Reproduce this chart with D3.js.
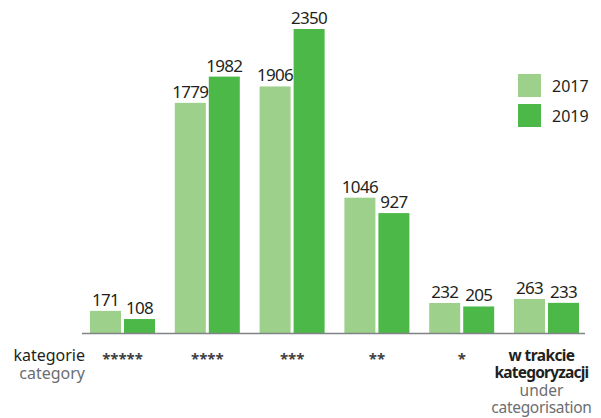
<!DOCTYPE html>
<html><head><meta charset="utf-8">
<script src="https://cdn.jsdelivr.net/npm/d3@7"></script>
<style>body{margin:0;background:#fff}text{font-family:"Noto Sans",sans-serif}</style>
</head><body><svg id="c" width="601" height="418"></svg>
<script>
const categories = ["*****","****","***","**","*","w trakcie kategoryzacji"];
const years = ["2017","2019"];
const v2017 = [171,1779,1906,1046,232,263];
const v2019 = [108,1982,2350,927,205,233];
const colors = ["#9dd08a","#4cb848"];

const svg = d3.select("#c");
const baseY = 333, topY = 29;
const x = d3.scalePoint().domain(categories).range([122.5, 546.5]);
const y = d3.scaleLinear().domain([0, 2350]).range([baseY, topY]);
const bw = 31, gap = 3;
const series = [v2017, v2019];

series.forEach((vals, si) => {
  const g = svg.append("g");
  categories.forEach((c, i) => {
    const cx = x(c);
    const bx = si === 0 ? cx - gap/2 - bw : cx + gap/2;
    g.append("rect").attr("x", bx).attr("y", y(vals[i])).attr("width", bw)
      .attr("height", baseY - y(vals[i])).attr("fill", colors[si]);
    g.append("text").attr("x", bx + bw/2).attr("y", y(vals[i]) - 5)
      .attr("text-anchor", "middle").attr("font-size", 17).attr("fill", "#231f20")
      .style("letter-spacing", "-0.7px").text(vals[i]);
  });
});

svg.append("line").attr("x1", 82).attr("x2", 585).attr("y1", baseY + 0.5).attr("y2", baseY + 0.5)
  .attr("stroke", "#808285").attr("stroke-width", 1.5);

categories.forEach((c, i) => {
  const cx = x(c);
  if (i < 5) {
    svg.append("text").attr("x", cx).attr("y", 364).attr("text-anchor", "middle")
      .attr("font-size", 15).attr("font-weight", "bold").attr("fill", "#414042").text(c);
  } else {
    const lx = cx - 5;
    const lines = [
      {t: "w trakcie", y: 361, b: true, ls: -0.6, col: "#231f20"},
      {t: "kategoryzacji", y: 378, b: true, ls: -0.8, col: "#231f20"},
      {t: "under", y: 396, b: false, ls: 0, col: "#6d6e71"},
      {t: "categorisation", y: 413, b: false, ls: -0.3, col: "#6d6e71"}
    ];
    lines.forEach(l => {
      svg.append("text").attr("x", lx).attr("y", l.y).attr("text-anchor", "middle")
        .attr("font-size", 15.5).attr("font-weight", l.b ? "bold" : "normal")
        .attr("fill", l.col).style("letter-spacing", l.ls + "px").text(l.t);
    });
  }
});
svg.append("text").attr("x", 85).attr("y", 361).attr("text-anchor", "end").attr("font-size", 16)
  .attr("fill", "#231f20").text("kategorie");
svg.append("text").attr("x", 85).attr("y", 379).attr("text-anchor", "end").attr("font-size", 16)
  .attr("fill", "#6d6e71").text("category");

years.forEach((yr, i) => {
  svg.append("rect").attr("x", 518).attr("y", 74 + i*30).attr("width", 23).attr("height", 23).attr("fill", colors[i]);
  svg.append("text").attr("x", 552).attr("y", 92 + i*30).attr("font-size", 16).attr("fill", "#231f20").text(yr);
});
</script></body></html>
